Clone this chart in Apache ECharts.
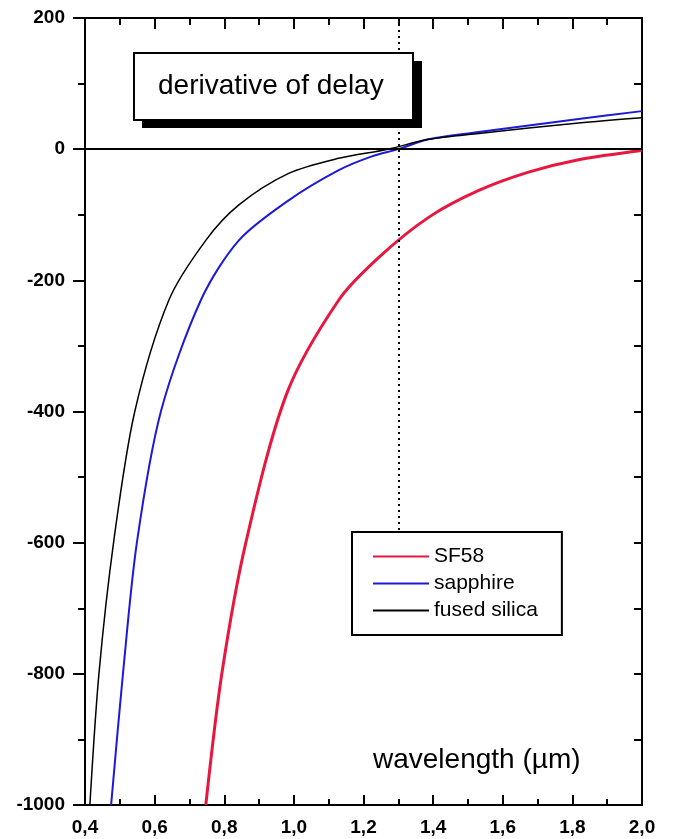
<!DOCTYPE html>
<html>
<head>
<meta charset="utf-8">
<script src="https://cdn.jsdelivr.net/npm/echarts@6/dist/echarts.min.js"></script>
<style>
  html, body { margin: 0; padding: 0; background: #fff; }
  #main { width: 679px; height: 839px; }
</style>
</head>
<body>
<div id="main"></div>
<script>
// wavelength (um) / derivative of delay
var silicaX = [0.414, 0.44, 0.483, 0.543, 0.641, 0.747, 0.842, 0.985, 1.129, 1.27, 1.387, 1.531, 1.818, 2.0];
var silicaY = [-1000, -800, -596, -400, -230, -139, -85, -37, -14, 0, 15, 24, 40, 48];

var sapphireX = [0.475, 0.509, 0.549, 0.618, 0.733, 0.842, 0.985, 1.129, 1.224, 1.3, 1.387, 1.531, 1.818, 2.0];
var sapphireY = [-1000, -800, -600, -400, -230, -139, -78, -32, -11, 0, 15, 26, 46, 58];

var sf58X = [0.747, 0.793, 0.862, 0.98, 1.129, 1.244, 1.387, 1.531, 1.674, 1.818, 2.0];
var sf58Y = [-1000, -800, -600, -372, -230, -165, -104, -63, -35, -16, -2];

var seriesNames = ['SF58', 'sapphire', 'fused silica'];
var xTicks = [0.4, 2.0];
var yTicks = [-1000, 200];
var zeroCrossing = 1.3;

function pairs(xs, ys) {
  return xs.map(function (x, i) { return [x, ys[i]]; });
}

var chartDom = document.getElementById('main');
var myChart = echarts.init(chartDom);
var font = 'Arial, "Liberation Sans", Helvetica, sans-serif';
var option;

option = {
  animation: false,
  backgroundColor: '#fff',
  grid: { left: 85, top: 18, right: 37, bottom: 34 },
  xAxis: [
    {
      type: 'value', min: xTicks[0], max: xTicks[1], interval: 0.2,
      axisLine: { onZero: false, lineStyle: { color: '#000', width: 2 } },
      axisTick: { inside: true, length: 10, lineStyle: { color: '#000', width: 2 } },
      minorTick: { show: true, splitNumber: 2, length: 6, lineStyle: { color: '#000', width: 2 } },
      splitLine: { show: false },
      axisLabel: {
        margin: 13, color: '#000', fontSize: 19, fontWeight: 'bold', fontFamily: font,
        formatter: function (v) { return v.toFixed(1).replace('.', ','); }
      }
    },
    {
      type: 'value', position: 'top', min: xTicks[0], max: xTicks[1], interval: 0.2,
      axisLine: { onZero: false, lineStyle: { color: '#000', width: 2 } },
      axisTick: { inside: true, length: 11, lineStyle: { color: '#000', width: 2 } },
      minorTick: { show: true, splitNumber: 2, length: 7, lineStyle: { color: '#000', width: 2 } },
      splitLine: { show: false },
      axisLabel: { show: false }
    }
  ],
  yAxis: [
    {
      type: 'value', min: yTicks[0], max: yTicks[1], interval: 200,
      axisLine: { show: true, onZero: false, lineStyle: { color: '#000', width: 2 } },
      axisTick: { show: true, length: 12, lineStyle: { color: '#000', width: 2 } },
      minorTick: { show: true, splitNumber: 2, length: 7, lineStyle: { color: '#000', width: 2 } },
      splitLine: { show: false },
      axisLabel: {
        margin: 20, color: '#000', fontSize: 19, fontWeight: 'bold', fontFamily: font,
        formatter: function (v) { return String(v); }
      }
    },
    {
      type: 'value', position: 'right', min: yTicks[0], max: yTicks[1], interval: 100,
      axisLine: { show: true, onZero: false, lineStyle: { color: '#000', width: 2 } },
      axisTick: { show: true, inside: true, length: 8, lineStyle: { color: '#000', width: 2 } },
      splitLine: { show: false },
      axisLabel: { show: false }
    }
  ],
  legend: {
    orient: 'vertical', left: 352, top: 532,
    padding: [14, 24, 14, 20],
    itemGap: 6, itemWidth: 56, itemHeight: 14,
    borderColor: '#000', borderWidth: 2, backgroundColor: '#fff',
    itemStyle: { opacity: 0 },
    textStyle: { color: '#000', fontSize: 21, fontFamily: font },
    data: seriesNames
  },
  graphic: [
    { type: 'rect', left: 142, top: 61, z: 100, shape: { width: 280, height: 67 }, style: { fill: '#000' } },
    { type: 'rect', left: 133, top: 52, z: 101, shape: { width: 279, height: 67 }, style: { fill: '#fff', stroke: '#000', lineWidth: 2 } },
    { type: 'text', left: 158, top: 72, z: 102, style: { text: 'derivative of delay', fill: '#000', font: '28px ' + font } },
    { type: 'text', left: 373, top: 746, z: 102, style: { text: 'wavelength (µm)', fill: '#000', font: '28px ' + font } }
  ],
  series: [
    {
      name: seriesNames[0], type: 'line', smooth: 0.3, symbol: 'none', clip: true,
      lineStyle: { color: '#e8173f', width: 3 }, itemStyle: { color: '#e8173f' },
      data: pairs(sf58X, sf58Y), z: 3
    },
    {
      name: seriesNames[1], type: 'line', smooth: 0.3, symbol: 'none', clip: true,
      lineStyle: { color: '#1c1ad8', width: 2 }, itemStyle: { color: '#1c1ad8' },
      data: pairs(sapphireX, sapphireY), z: 3
    },
    {
      name: seriesNames[2], type: 'line', smooth: 0.3, symbol: 'none', clip: true,
      lineStyle: { color: '#000', width: 1.5 }, itemStyle: { color: '#000' },
      data: pairs(silicaX, silicaY), z: 3,
      markLine: {
        silent: true, symbol: 'none', label: { show: false },
        data: [
          [{ coord: [xTicks[0], 0], lineStyle: { type: 'solid', width: 2, color: '#000' } }, { coord: [xTicks[1], 0] }],
          [{ coord: [zeroCrossing, yTicks[1]], lineStyle: { type: [2, 4], width: 2, color: '#000' } }, { coord: [zeroCrossing, -585] }]
        ]
      }
    }
  ]
};

option && myChart.setOption(option);
</script>
</body>
</html>
